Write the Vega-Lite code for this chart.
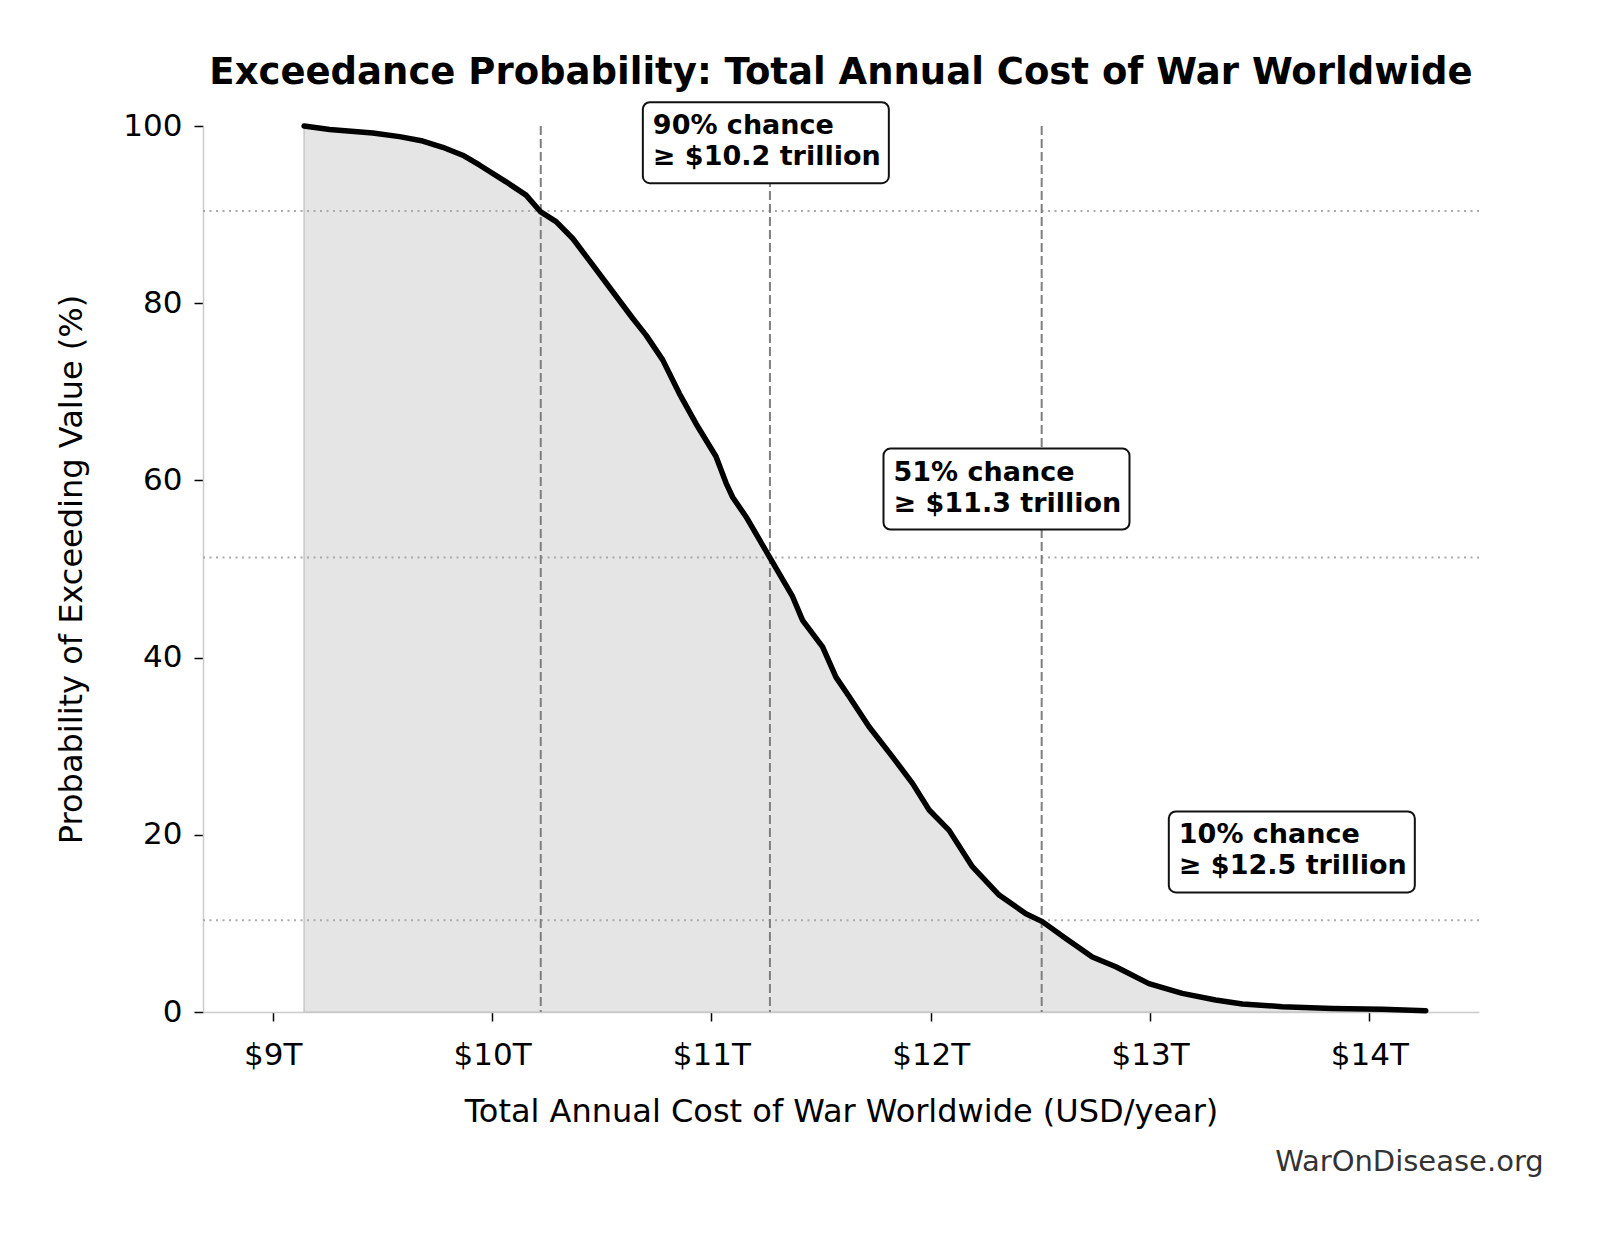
{
  "$schema": "https://vega.github.io/schema/vega-lite/v6.json",
  "width": 1276,
  "height": 886,
  "autosize": {"type": "none"},
  "padding": {"left": 203, "top": 126, "right": 124, "bottom": 221},
  "background": "white",
  "title": {
    "text": "Exceedance Probability: Total Annual Cost of War Worldwide",
    "font": "DejaVu Sans",
    "fontSize": 37,
    "fontWeight": "bold",
    "color": "black",
    "anchor": "middle",
    "offset": 9
  },
  "config": {
    "view": {"stroke": null},
    "font": "DejaVu Sans",
    "axis": {
      "grid": false,
      "domainColor": "#cccccc",
      "domainWidth": 1.5,
      "tickColor": "black",
      "tickWidth": 1.5,
      "tickSize": 9,
      "labelFont": "DejaVu Sans",
      "labelFontSize": 31,
      "labelColor": "black",
      "labelPadding": 12,
      "labelFlush": false,
      "labelOverlap": false,
      "titleFont": "DejaVu Sans",
      "titleFontSize": 32,
      "titleFontWeight": "normal",
      "titleColor": "black"
    }
  },
  "datasets": {
    "curve": [
      {"cost": 9.143, "prob": 100},
      {"cost": 9.259, "prob": 99.6},
      {"cost": 9.456, "prob": 99.2},
      {"cost": 9.578, "prob": 98.8},
      {"cost": 9.684, "prob": 98.3},
      {"cost": 9.775, "prob": 97.6},
      {"cost": 9.866, "prob": 96.7},
      {"cost": 9.942, "prob": 95.6},
      {"cost": 10.064, "prob": 93.7},
      {"cost": 10.155, "prob": 92.2},
      {"cost": 10.222, "prob": 90.3},
      {"cost": 10.292, "prob": 89.2},
      {"cost": 10.368, "prob": 87.3},
      {"cost": 10.444, "prob": 84.8},
      {"cost": 10.535, "prob": 81.8},
      {"cost": 10.641, "prob": 78.3},
      {"cost": 10.702, "prob": 76.4},
      {"cost": 10.778, "prob": 73.6},
      {"cost": 10.854, "prob": 69.8},
      {"cost": 10.93, "prob": 66.4},
      {"cost": 11.021, "prob": 62.7},
      {"cost": 11.067, "prob": 59.7},
      {"cost": 11.097, "prob": 58.1},
      {"cost": 11.158, "prob": 55.9},
      {"cost": 11.264, "prob": 51.4},
      {"cost": 11.37, "prob": 46.9},
      {"cost": 11.416, "prob": 44.2},
      {"cost": 11.507, "prob": 41.2},
      {"cost": 11.568, "prob": 37.8},
      {"cost": 11.628, "prob": 35.6},
      {"cost": 11.719, "prob": 32.2},
      {"cost": 11.826, "prob": 28.8},
      {"cost": 11.917, "prob": 25.8},
      {"cost": 11.993, "prob": 22.8},
      {"cost": 12.084, "prob": 20.5},
      {"cost": 12.19, "prob": 16.4},
      {"cost": 12.312, "prob": 13.2},
      {"cost": 12.434, "prob": 11.1},
      {"cost": 12.509, "prob": 10.2},
      {"cost": 12.616, "prob": 8.3},
      {"cost": 12.737, "prob": 6.2},
      {"cost": 12.844, "prob": 5.1},
      {"cost": 12.995, "prob": 3.2},
      {"cost": 13.147, "prob": 2.1},
      {"cost": 13.299, "prob": 1.35},
      {"cost": 13.421, "prob": 0.9},
      {"cost": 13.603, "prob": 0.6},
      {"cost": 13.831, "prob": 0.4},
      {"cost": 14.059, "prob": 0.3},
      {"cost": 14.257, "prob": 0.15}
    ],
    "percentiles": [
      {"value": 10.222, "prob": 90.4},
      {"value": 11.267, "prob": 51.3},
      {"value": 12.506, "prob": 10.35}
    ]
  },
  "layer": [
    {
      "data": {"name": "curve"},
      "mark": {"type": "area", "color": "#e5e5e5", "opacity": 1, "stroke": "#c8c8c8", "strokeWidth": 1.5},
      "encoding": {
        "x": {
          "field": "cost",
          "type": "quantitative",
          "scale": {"domain": [8.682, 14.5], "nice": false, "zero": false},
          "axis": {
            "values": [9, 10, 11, 12, 13, 14],
            "labelExpr": "'$' + datum.value + 'T'",
            "labelPadding": 19,
            "title": "Total Annual Cost of War Worldwide (USD/year)",
            "titlePadding": 26
          }
        },
        "y": {
          "field": "prob",
          "type": "quantitative",
          "scale": {"domain": [0, 100], "nice": false},
          "axis": {
            "values": [0, 20, 40, 60, 80, 100],
            "title": "Probability of Exceeding Value (%)",
            "titlePadding": 34
          }
        }
      }
    },
    {
      "data": {"name": "percentiles"},
      "mark": {"type": "rule", "color": "#aaaaaa", "strokeWidth": 2, "strokeDash": [2, 4.5]},
      "encoding": {
        "y": {"field": "prob", "type": "quantitative", "scale": {"domain": [0, 100], "nice": false}}
      }
    },
    {
      "data": {"name": "percentiles"},
      "mark": {"type": "rule", "color": "#7f7f7f", "strokeWidth": 2, "strokeDash": [9, 4]},
      "encoding": {
        "x": {"field": "value", "type": "quantitative", "scale": {"domain": [8.682, 14.5], "nice": false, "zero": false}}
      }
    },
    {
      "data": {"name": "curve"},
      "mark": {"type": "line", "color": "black", "strokeWidth": 5.5, "strokeJoin": "round", "strokeCap": "round"},
      "encoding": {
        "x": {"field": "cost", "type": "quantitative", "scale": {"domain": [8.682, 14.5], "nice": false, "zero": false}},
        "y": {"field": "prob", "type": "quantitative", "scale": {"domain": [0, 100], "nice": false}}
      }
    },
    {
      "data": {"name": "percentiles"},
      "transform": [
        {"calculate": "datum.value * 1.05", "as": "labelX"},
        {"calculate": "datum.prob + 8", "as": "labelY"}
      ],
      "mark": {
        "type": "rect",
        "fill": "white",
        "stroke": "#111111",
        "strokeWidth": 2,
        "cornerRadius": 7,
        "xOffset": -10,
        "x2Offset": 236,
        "yOffset": -38,
        "y2Offset": 43
      },
      "encoding": {
        "x": {"field": "labelX", "type": "quantitative", "scale": {"domain": [8.682, 14.5], "nice": false, "zero": false}},
        "x2": {"field": "labelX"},
        "y": {"field": "labelY", "type": "quantitative", "scale": {"domain": [0, 100], "nice": false}},
        "y2": {"field": "labelY"}
      }
    },
    {
      "data": {"name": "percentiles"},
      "transform": [
        {"calculate": "datum.value * 1.05", "as": "labelX"},
        {"calculate": "datum.prob + 8", "as": "labelY"},
        {"calculate": "format(datum.prob, '.0f') + '% chance\\n≥ $' + format(datum.value, '.1f') + ' trillion'", "as": "label"}
      ],
      "mark": {
        "type": "text",
        "align": "left",
        "baseline": "alphabetic",
        "dy": -6,
        "font": "DejaVu Sans",
        "fontSize": 27,
        "fontWeight": "bold",
        "color": "black",
        "lineBreak": "\n",
        "lineHeight": 31
      },
      "encoding": {
        "x": {"field": "labelX", "type": "quantitative", "scale": {"domain": [8.682, 14.5], "nice": false, "zero": false}},
        "y": {"field": "labelY", "type": "quantitative", "scale": {"domain": [0, 100], "nice": false}},
        "text": {"field": "label"}
      }
    },
    {
      "data": {"values": [{"site": "WarOnDisease.org"}]},
      "mark": {
        "type": "text",
        "align": "right",
        "baseline": "middle",
        "font": "DejaVu Sans",
        "fontSize": 29,
        "color": "#333333"
      },
      "encoding": {
        "x": {"datum": 14.795, "type": "quantitative", "scale": {"domain": [8.682, 14.5], "nice": false, "zero": false}},
        "y": {"datum": -16.9, "type": "quantitative", "scale": {"domain": [0, 100], "nice": false}},
        "text": {"field": "site"}
      }
    }
  ]
}
